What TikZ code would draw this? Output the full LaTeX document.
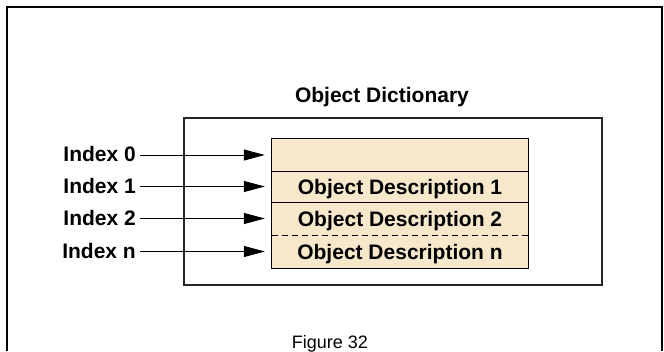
\documentclass[tikz,border=0pt]{standalone}
\usepackage{fontspec}
\setmainfont{Liberation Sans}
\usetikzlibrary{arrows.meta}
\definecolor{tabfill}{RGB}{247,232,204}
\begin{document}
\begin{tikzpicture}[x=1pt,y=-1pt,
  lbl/.style={font=\fontsize{21}{25}\selectfont\bfseries, inner sep=0pt, text height=15pt, text depth=0pt},
  cell/.style={lbl, fill=tabfill, minimum width=256pt},
  conn/.style={line width=1pt, -{Triangle[length=21pt,width=11pt]}, shorten >=7pt}]
\useasboundingbox (0,0) rectangle (664,351);
\fill[white] (0,0) rectangle (664,351);
\draw[line width=2.4pt] (7,351) -- (7,7) -- (662,7) -- (662,351);
\node[draw=black!85, line width=1.2pt, minimum width=418pt, minimum height=167pt, inner sep=0pt] (od) at (393,201.5) {};
\node[lbl, text height=, text depth=, anchor=base] (title) at (382,102) {Object Dictionary};
% table rows
\node[cell, minimum height=32pt] (r0) at (400,155) {};
\node[cell, minimum height=31pt] (r1) at (400,186.5) {Object Description 1};
\node[cell, minimum height=33pt] (r2) at (400,218.5) {Object Description 2};
\node[cell, minimum height=33pt] (r3) at (400,251.5) {Object Description n};
\draw[line width=1pt] (r0.north west) rectangle (r3.south east);
\draw[line width=1pt] (r0.south west) -- (r0.south east);
\draw[line width=1pt] (r1.south west) -- (r1.south east);
\draw[line width=0.8pt, dash pattern=on 6pt off 4pt] (r2.south west) -- (r2.south east);
% index labels
\node[lbl, anchor=east] (i0) at (136,154) {Index 0};
\node[lbl, anchor=east] (i1) at (136,185.5) {Index 1};
\node[lbl, anchor=east] (i2) at (136,217.5) {Index 2};
\node[lbl, anchor=east] (in) at (136,251) {Index n};
\draw[conn] ([xshift=4pt]i0.east |- r0.west) -- (r0.west);
\draw[conn] ([xshift=4pt]i1.east |- r1.west) -- (r1.west);
\draw[conn] ([xshift=4pt]i2.east |- r2.west) -- (r2.west);
\draw[conn] ([xshift=4pt]in.east |- r3.west) -- (r3.west);
\node[font=\fontsize{18}{22}\selectfont, anchor=base, inner sep=0pt] (cap) at (330,348) {Figure 32};
\end{tikzpicture}
\end{document}
